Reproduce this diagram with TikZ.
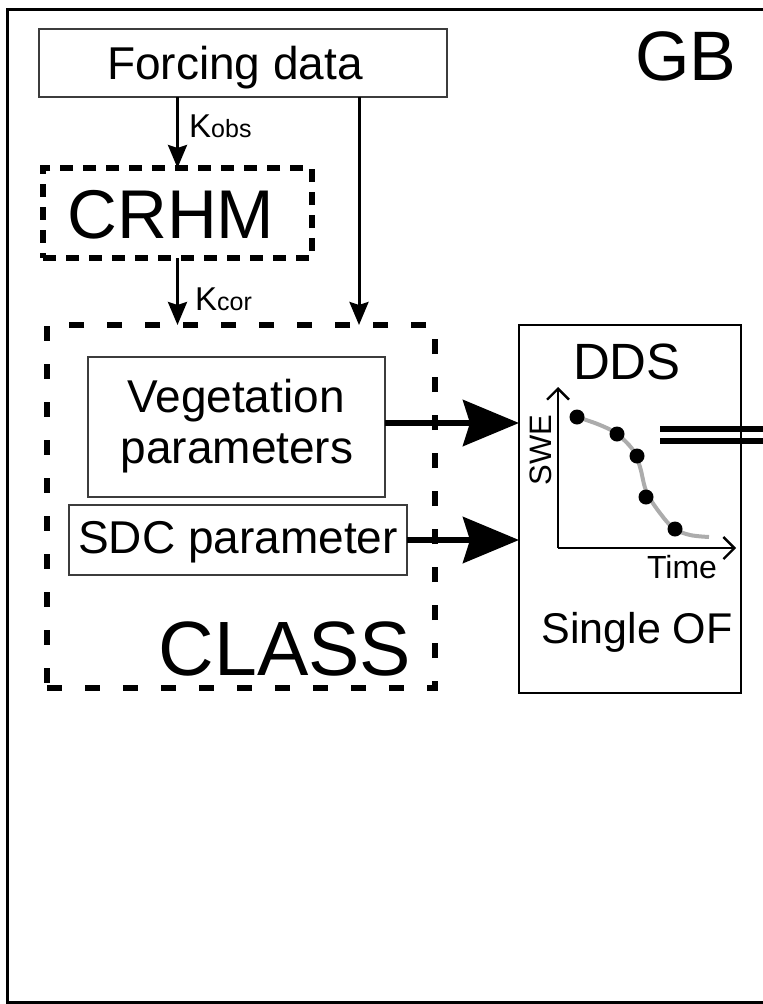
\documentclass[tikz,border=0pt]{standalone}
\usepackage{fontspec}
\setmainfont{Liberation Sans}
\usetikzlibrary{arrows.meta,calc}
\newcommand\fsz[1]{\fontsize{#1}{#1}\selectfont}
\definecolor{boxgray}{RGB}{60,60,60}
\tikzset{
  thinbox/.style={draw=boxgray, line width=1.8pt, inner sep=0pt, outer sep=0pt},
  dashbox/.style={draw, line width=6pt, inner sep=0pt, outer sep=0pt},
  solidbox/.style={draw, line width=2.8pt, inner sep=0pt, outer sep=0pt},
  lbl/.style={inner sep=0pt, anchor=base},
  thinarrow/.style={line width=3pt, -{Stealth[length=23pt,width=19pt,inset=3pt]}},
  fatarrow/.style={line width=6pt, -{Stealth[length=56pt,width=46pt,inset=7pt]}},
  axis/.style={line width=2.3pt, -{Straight Barb[length=11pt,width=22pt,line width=2.3pt]}},
  dot/.style={circle, fill=black, inner sep=0pt, minimum size=15pt},
}
\begin{document}
\begin{tikzpicture}[x=1pt,y=-1pt]
\useasboundingbox (0,0) rectangle (763,1004);
\clip (0,0) rectangle (763,1004);
% outer frame
\draw[line width=3pt] (800,9) -- (7,9) -- (7,1002) -- (800,1002);

% boxes
\node[thinbox, minimum width=408pt, minimum height=68pt] (fd) at (243,63) {};
\node[lbl] (fdt) at (235,79) {\fsz{46}Forcing data};
\node[lbl] (gb) at (686,80) {\fsz{70}GB};

\node[dashbox, dash pattern=on 13pt off 10pt, minimum width=269pt, minimum height=90pt] (crhm) at (177.5,213) {};
\node[lbl] (crhmt) at (171,238) {\fsz{69}CRHM};

\node[dashbox, dash pattern=on 15pt off 23pt, minimum width=388pt, minimum height=363pt] (class) at (241,506.5) {};
\node[lbl] (classt) at (285,675) {\fsz{77}CLASS};

\node[thinbox, minimum width=297pt, minimum height=140pt] (veg) at (236.5,427) {};
\node[lbl] (vegt1) at (236,412) {\fsz{46}Vegetation};
\node[lbl] (vegt2) at (237,463) {\fsz{46}parameters};

\node[thinbox, minimum width=338pt, minimum height=70pt] (sdc) at (238,540) {};
\node[lbl] (sdct) at (238,553) {\fsz{46}SDC parameter};

\node[solidbox, minimum width=222pt, minimum height=368pt] (dds) at (630,509) {};
\node[lbl] (ddst) at (627,379) {\fsz{51}DDS};
\node[lbl] (oft) at (637,643) {\fsz{43}Single OF};

% connectors
\draw[thinarrow] (fd.south -| crhm.north) -- (crhm.north);
\node[lbl, anchor=base west] (kobs) at (189,137) {\fsz{33}K\fsz{25}obs};
\draw[thinarrow] (crhm.south) -- (crhm.south |- class.north);
\node[lbl, anchor=base west] (kcor) at (195,310) {\fsz{33}K\fsz{25}cor};
\coordinate (fdr) at ($(fd.south)+(116,0)$);
\draw[thinarrow] (fdr) -- (fdr |- class.north);

\draw[fatarrow] ([yshift=4pt]veg.east) -- ([yshift=4pt]veg.east -| dds.west);
\draw[fatarrow] (sdc.east) -- (sdc.east -| dds.west);

% plot inside DDS
\coordinate (org) at (558,548);
\draw[axis] (org) -- (558,387);
\draw[axis] (org) -- (736,548);
\node[lbl, anchor=center, rotate=90] (swe) at (541,450) {\fsz{31}SWE};
\node[lbl] (time) at (682,578) {\fsz{32}Time};
\draw[line width=4pt, gray!65] plot[smooth, tension=0.6] coordinates {(577,417) (600,425) (617,434) (633,450) (640,467) (647,493) (663,517) (675,529) (690,535) (709,537)};
\node[dot] (d1) at (577,417) {};
\node[dot] (d2) at (617,434) {};
\node[dot] (d3) at (637,456) {};
\node[dot] (d4) at (646,497) {};
\node[dot] (d5) at (675,529) {};

% double line to the right
\draw[line width=6pt] (660,429) -- (775,429);
\draw[line width=6pt] (660,441) -- (775,441);
\end{tikzpicture}
\end{document}
